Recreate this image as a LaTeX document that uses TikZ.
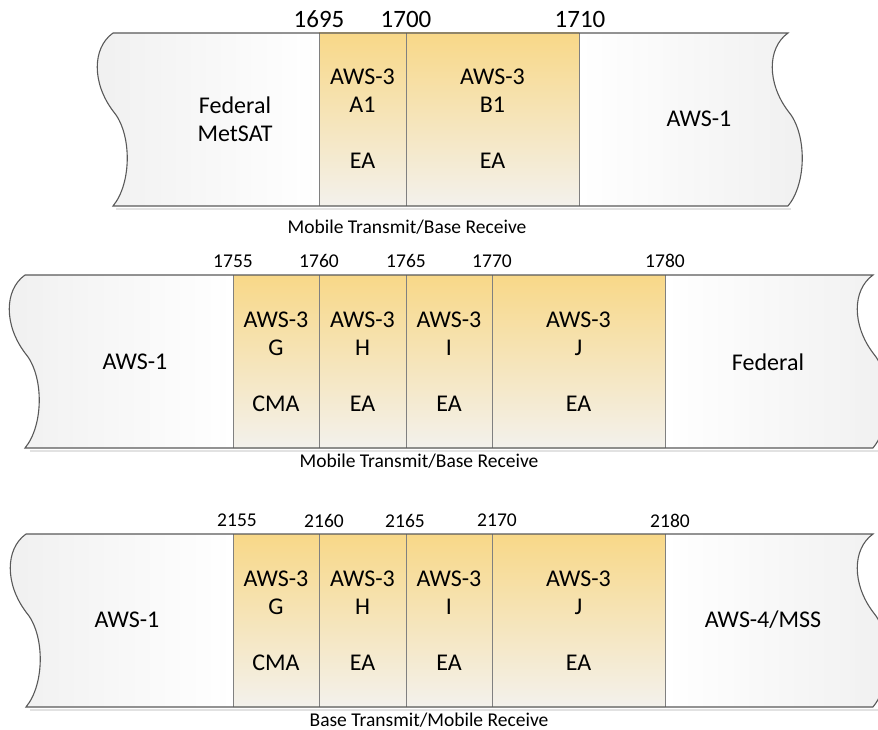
\documentclass[tikz,border=0pt]{standalone}
\usepackage{fontspec}
\setmainfont{Carlito}
\definecolor{goldtop}{HTML}{F8D888}
\definecolor{goldbot}{HTML}{F3F1EC}
\definecolor{bandgray}{HTML}{F0F0F0}
\definecolor{edgegray}{HTML}{595959}
\definecolor{shadowgray}{HTML}{E2E2E2}
% torn edge of a band, top point (#1,#2), height 173
\newcommand{\tornedge}[2]{(#1,#2) .. controls (#1-21,#2+15) and (#1-21,#2+50) .. (#1,#2+78) .. controls (#1+19,#2+100) and (#1+19,#2+150) .. (#1,#2+173)}
\tikzset{
	edge/.style={draw=edgegray,line width=1.1pt},
	divider/.style={draw=gray,line width=0.9pt},
	gold/.style={top color=goldtop,bottom color=goldbot},
	leftband/.style={left color=bandgray,right color=white},
	rightband/.style={left color=white,right color=bandgray},
	shadowline/.style={draw=shadowgray,line width=2.5pt},
	freqbig/.style={font=\fontsize{25}{28}\selectfont},
	freq/.style={font=\fontsize{19.5}{22}\selectfont},
	cell/.style={align=center,font=\fontsize{24}{28}\selectfont},
	caption/.style={font=\fontsize{19.5}{22}\selectfont,inner sep=1pt}
}
\begin{document}
\begin{tikzpicture}[x=1pt,y=-1pt]
	\useasboundingbox (0,0) rectangle (878,730);

	% 1695-1710
	\draw [shadowline] (116,209) -- (791,209);
	\shade [leftband] (319,33) -- \tornedge{113}{33} -- (319,206) -- cycle;
	\shade [rightband] (579,33) -- \tornedge{788}{33} -- (579,206) -- cycle;
	\shade [gold] (319,33) rectangle (579,206);
	\draw [divider] (319,33) -- (319,206);	\draw [divider] (406,33) -- (406,206);	\draw [divider] (579,33) -- (579,206);
	\draw [edge] \tornedge{113}{33} -- (788,206);
	\draw [edge] (113,33) -- \tornedge{788}{33};
	\node [freqbig] (f1695) at (319,19) {1695};
	\node [freqbig] (f1700) at (406,19) {1700};
	\node [freqbig] (f1710) at (580,19) {1710};
	\node [cell] (metsat) at (235,119) {Federal\\MetSAT};
	\node [cell] (a1) at (362.5,119) {AWS-3\\A1\\[28pt]EA};
	\node [cell] (b1) at (492.5,119) {AWS-3\\B1\\[28pt]EA};
	\node [cell] (aws1top) at (699,119) {AWS-1};
	\node [caption] (cap1) at (407,227) {Mobile Transmit/Base Receive};

	% 1755-1780
	\draw [shadowline] (30,451) -- (878,451);
	\shade [leftband] (233,275) -- \tornedge{25}{275} -- (233,448) -- cycle;
	\shade [rightband] (665,275) -- \tornedge{873}{275} -- (665,448) -- cycle;
	\shade [gold] (233,275) rectangle (665,448);
	\draw [divider] (233,275) -- (233,448);	\draw [divider] (319,275) -- (319,448);	\draw [divider] (406,275) -- (406,448);
	\draw [divider] (492,275) -- (492,448);	\draw [divider] (665,275) -- (665,448);
	\draw [edge] \tornedge{25}{275} -- (873,448);
	\draw [edge] (25,275) -- \tornedge{873}{275};
	\node [freq] (f1755) at (233,261) {1755};
	\node [freq] (f1760) at (319,261) {1760};
	\node [freq] (f1765) at (406,261) {1765};
	\node [freq] (f1770) at (492,261) {1770};
	\node [freq] (f1780) at (665,261) {1780};
	\node [cell] (aws1mid) at (135,362) {AWS-1};
	\node [cell] (g1) at (276,362) {AWS-3\\G\\[28pt]CMA};
	\node [cell] (h1) at (362.5,362) {AWS-3\\H\\[28pt]EA};
	\node [cell] (i1) at (449,362) {AWS-3\\I\\[28pt]EA};
	\node [cell] (j1) at (578.5,362) {AWS-3\\J\\[28pt]EA};
	\node [cell] (federal) at (768,362) {Federal};
	\node [caption] (cap2) at (419,461) {Mobile Transmit/Base Receive};

	% 2155-2180
	\draw [shadowline] (30,710) -- (878,710);
	\shade [leftband] (233,534) -- \tornedge{26}{534} -- (233,707) -- cycle;
	\shade [rightband] (665,534) -- \tornedge{873}{534} -- (665,707) -- cycle;
	\shade [gold] (233,534) rectangle (665,707);
	\draw [divider] (233,534) -- (233,707);	\draw [divider] (319,534) -- (319,707);	\draw [divider] (406,534) -- (406,707);
	\draw [divider] (492,534) -- (492,707);	\draw [divider] (665,534) -- (665,707);
	\draw [edge] \tornedge{26}{534} -- (873,707);
	\draw [edge] (26,534) -- \tornedge{873}{534};
	\node [freq] (f2155) at (237,520) {2155};
	\node [freq] (f2160) at (324,521) {2160};
	\node [freq] (f2165) at (405,521) {2165};
	\node [freq] (f2170) at (497,520) {2170};
	\node [freq] (f2180) at (670,521) {2180};
	\node [cell] (aws1low) at (127,620) {AWS-1};
	\node [cell] (g2) at (276,621) {AWS-3\\G\\[28pt]CMA};
	\node [cell] (h2) at (362.5,621) {AWS-3\\H\\[28pt]EA};
	\node [cell] (i2) at (449,621) {AWS-3\\I\\[28pt]EA};
	\node [cell] (j2) at (578.5,621) {AWS-3\\J\\[28pt]EA};
	\node [cell] (aws4) at (763,620) {AWS-4/MSS};
	\node [caption] (cap3) at (429,720) {Base Transmit/Mobile Receive};
\end{tikzpicture}
\end{document}
